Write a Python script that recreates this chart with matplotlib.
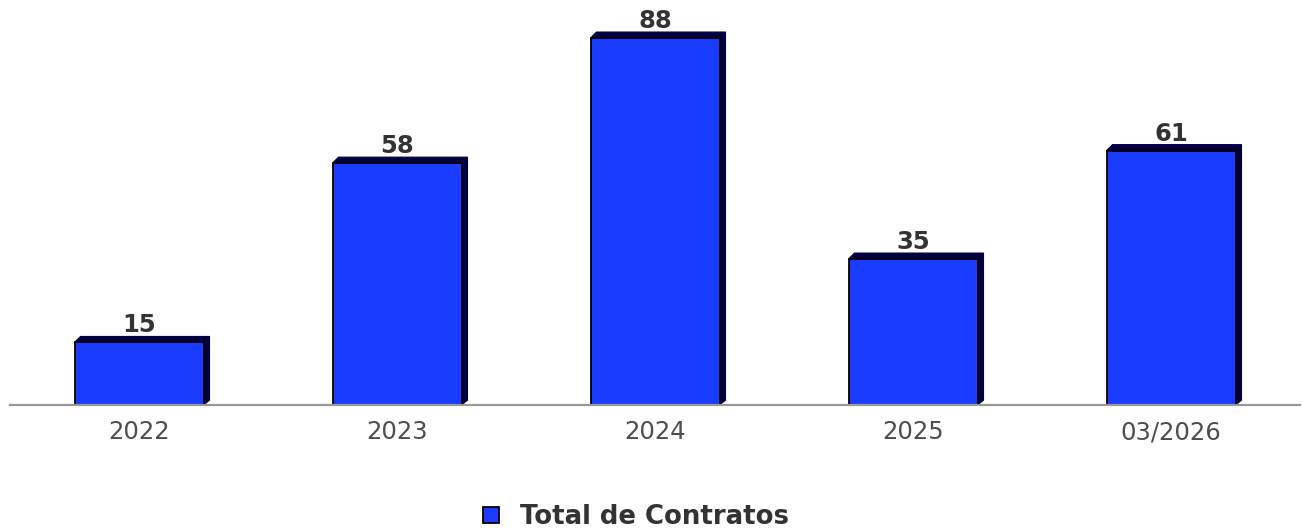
import matplotlib
matplotlib.use("Agg")
import matplotlib.pyplot as plt
from matplotlib.patches import Polygon

plt.rcParams["font.family"] = ["DejaVu Sans"]

categories = ["2022", "2023", "2024", "2025", "03/2026"]
values = [15, 58, 88, 35, 61]
series_name = "Total de Contratos"

W, H = 1303, 531
fig = plt.figure(figsize=(W / 100, H / 100), dpi=100)
base_px = 405
ax = fig.add_axes([10 / W, (H - base_px) / H, 1290 / W, base_px / H])
ax.set_xlim(-0.5, len(categories) - 0.5)
ax.set_ylim(0, base_px / 4.17)

front = "#1a3cff"
shade = "#000040"
bw = 0.5
x = list(range(len(categories)))
bars = ax.bar(x, values, width=bw, color=front, edgecolor="#000000",
              linewidth=1.3, zorder=3, label=series_name)

# 3D shadow (top + right faces), 6 px deep
p0 = ax.transData.transform((0, 0))
p1 = ax.transData.transform((1, 1))
dx = 6 / (p1[0] - p0[0])
dy = 6 / (p1[1] - p0[1])
for xi, v in zip(x, values):
    l, r = xi - bw / 2, xi + bw / 2
    poly = Polygon([(l, v), (l + dx, v + dy), (r + dx, v + dy),
                    (r + dx, dy * 0.8), (r, 0)],
                   closed=True, facecolor=shade, edgecolor=shade,
                   linewidth=0.8, zorder=2)
    ax.add_patch(poly)
    ax.annotate(str(v), (xi, v), xytext=(0, 10), textcoords="offset pixels",
                ha="center", va="baseline", fontsize=17.5, fontweight="bold",
                color="#333333", zorder=5)

for s in ["top", "left", "right"]:
    ax.spines[s].set_visible(False)
ax.spines["bottom"].set_color("#999999")
ax.spines["bottom"].set_linewidth(1.6)
ax.spines["bottom"].set_zorder(4)
ax.set_yticks([])
ax.set_xticks(x)
ax.set_xticklabels(categories)
ax.tick_params(axis="x", length=0, pad=11, labelsize=17.5, labelcolor="#4d4d4d")
ax.patch.set_alpha(0)

leg = fig.legend(handles=[bars], labels=[series_name], loc="center",
                 bbox_to_anchor=(636 / W, 1 - 517 / H), frameon=False,
                 prop={"size": 18.7, "weight": "bold"}, handlelength=0.6,
                 handleheight=0.6, handletextpad=0.8, labelcolor="#333333")

fig.savefig("out.png", dpi=100)
